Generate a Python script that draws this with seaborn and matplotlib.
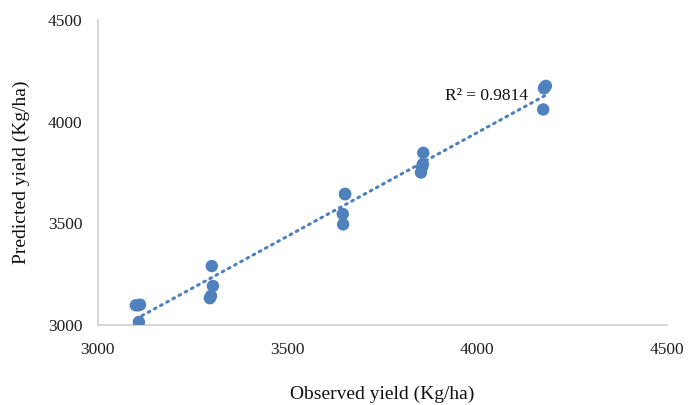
import numpy as np
import pandas as pd
import matplotlib
matplotlib.use("Agg")
import matplotlib.pyplot as plt
import seaborn as sns

observed = [3101, 3112, 3108, 3109,
            3301, 3304, 3299, 3296,
            3652, 3646, 3647, 3652,
            3858, 3857, 3855, 3852,
            4176, 4181, 4174, 4178]
predicted = [3097, 3100, 3097, 3015,
             3290, 3192, 3143, 3132,
             3643, 3546, 3495, 3645,
             3847, 3792, 3777, 3750,
             4164, 4176, 4060, 4170]
x_ticks = [3000, 3500, 4000, 4500]
y_ticks = [3000, 3500, 4000, 4500]
r2_label = "R² = 0.9814"

df = pd.DataFrame({"Observed": observed, "Predicted": predicted})

sns.set_theme(style="white")
plt.rcParams["font.family"] = ["Liberation Serif", "DejaVu Serif"]

blue = "#4F81BD"
fig = plt.figure(figsize=(6.99, 4.05), dpi=100)
ax = fig.add_axes([0.1395, 0.1975, 0.8147, 0.7531])

sns.regplot(data=df, x="Observed", y="Predicted", ax=ax, ci=None, truncate=True,
            scatter_kws=dict(s=80, color=blue, edgecolor="none", alpha=1, zorder=3),
            line_kws=dict(color=blue, linestyle=(0, (0.6, 1.7)), linewidth=2.2,
                          dash_capstyle="round", zorder=2))

ax.set_xlim(3000, 4500)
ax.set_ylim(3000, 4500)
ax.set_xticks(x_ticks)
ax.set_yticks(y_ticks)
ax.tick_params(axis="both", length=0, labelsize=12.5, colors="#222222")
ax.tick_params(axis="x", pad=12)
ax.tick_params(axis="y", pad=11)

for side in ["top", "right"]:
    ax.spines[side].set_visible(False)
for side in ["left", "bottom"]:
    ax.spines[side].set_color("#D0D0D0")
    ax.spines[side].set_linewidth(1.2)

ax.set_xlabel("Observed yield (Kg/ha)", fontsize=14, color="#111111", labelpad=20)
ax.set_ylabel("Predicted yield (Kg/ha)", fontsize=14, color="#111111", labelpad=13)

ax.text(4134, 4126, r2_label, fontsize=12.5, color="#111111", ha="right", va="center")

fig.savefig("out.png", dpi=100)
